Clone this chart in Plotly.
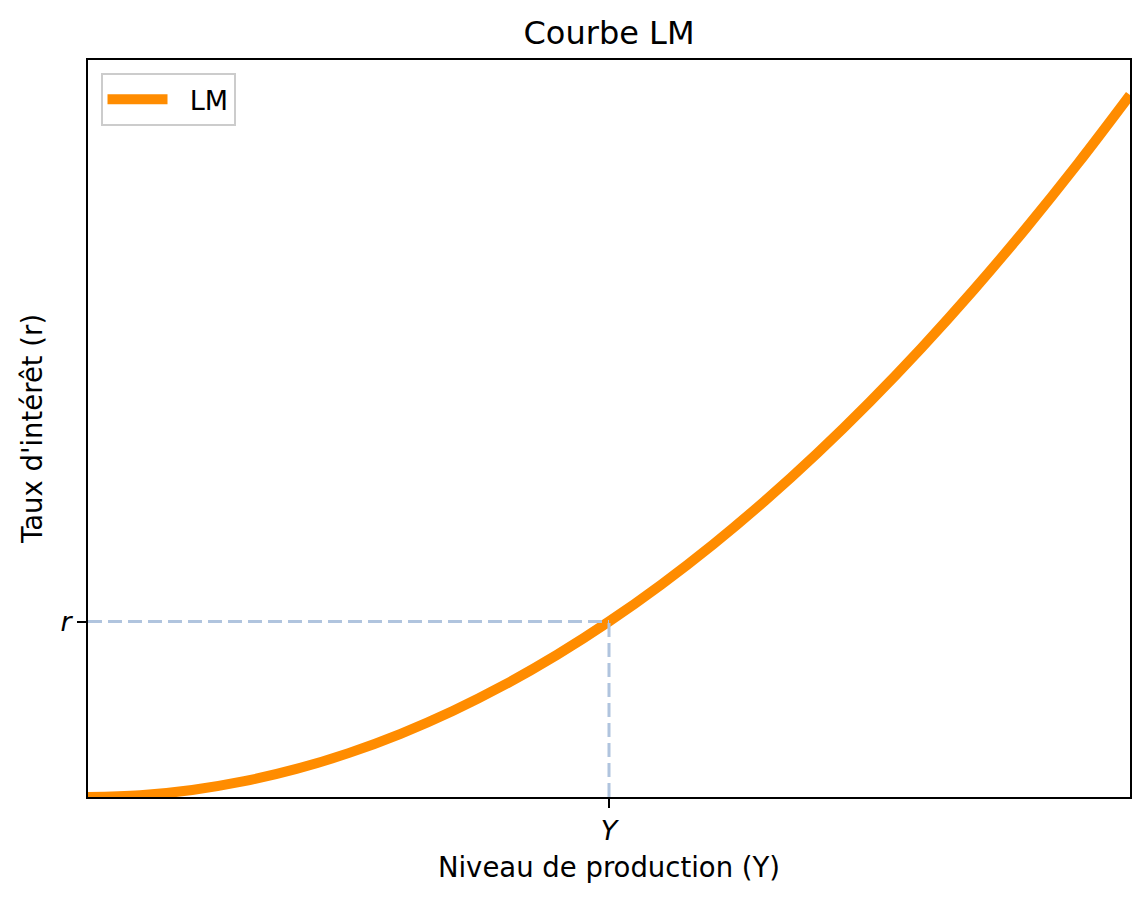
import plotly.graph_objects as go

# Values (LM curve)
lm_x = [0, 0.5, 1, 1.5, 2, 2.5, 3, 3.5, 4, 4.5, 5, 5.5, 6, 6.5, 7, 7.5, 8, 8.5, 9, 9.5, 10]
lm_r = [0, 0.25, 1, 2.25, 4, 6.25, 9, 12.25, 16, 20.25, 25, 30.25, 36, 42.25, 49, 56.25, 64, 72.25, 81, 90.25, 100]

eq_Y = 5
eq_r = 25
x_tickvals = [eq_Y]
x_ticktext = ["<i>Y</i>"]
y_tickvals = [eq_r]
y_ticktext = ["<i>r</i>"]

FONT = "DejaVu Sans"

fig = go.Figure()
fig.add_trace(go.Scatter(
    x=lm_x, y=lm_r, mode="lines", name="\u00a0\u00a0LM",
    line=dict(color="#FF8C00", width=10, shape="spline"),
))
fig.add_trace(go.Scatter(
    x=[0, eq_Y], y=[eq_r, eq_r], mode="lines", showlegend=False,
    line=dict(color="#B0C4DE", width=3, dash="14px,6px"),
))
fig.add_trace(go.Scatter(
    x=[eq_Y, eq_Y], y=[0, eq_r], mode="lines", showlegend=False,
    line=dict(color="#B0C4DE", width=3, dash="14px,6px"),
))

axis_common = dict(
    showgrid=False, zeroline=False, showline=True, linecolor="black", linewidth=2,
    mirror=True, ticks="outside", ticklen=9, tickwidth=2, tickcolor="black",
    tickfont=dict(family=FONT, size=27, color="black"),
)

W, H = 1140, 893
ML, MR, MT, MB = 80, 18, 52, 104
fig.update_layout(
    width=W, height=H,
    margin=dict(l=ML, r=MR, t=MT, b=MB),
    paper_bgcolor="white", plot_bgcolor="white",
    font=dict(family=FONT, size=27, color="black"),
    title=dict(text="Courbe LM", x=(ML + W - MR) / 2 / W, xanchor="center",
               y=1 - 25 / H, yanchor="middle",
               font=dict(family=FONT, size=32, color="black")),
    xaxis=dict(range=[0, 10], tickvals=x_tickvals, ticktext=x_ticktext,
               title=dict(text="Niveau de production (Y)", standoff=12,
                          font=dict(family=FONT, size=27.5, color="black")),
               **axis_common),
    yaxis=dict(range=[0, 105], tickvals=y_tickvals, ticktext=y_ticktext,
               title=dict(text="Taux d'intérêt (r)", standoff=10,
                          font=dict(family=FONT, size=27.5, color="black")),
               **axis_common),
    legend=dict(x=0.012, y=0.982, xanchor="left", yanchor="top",
                bgcolor="rgba(255,255,255,0.8)", bordercolor="#CCCCCC", borderwidth=2,
                font=dict(family=FONT, size=27, color="black"), itemwidth=60),
    showlegend=True,
)

fig.write_html("out.html")
